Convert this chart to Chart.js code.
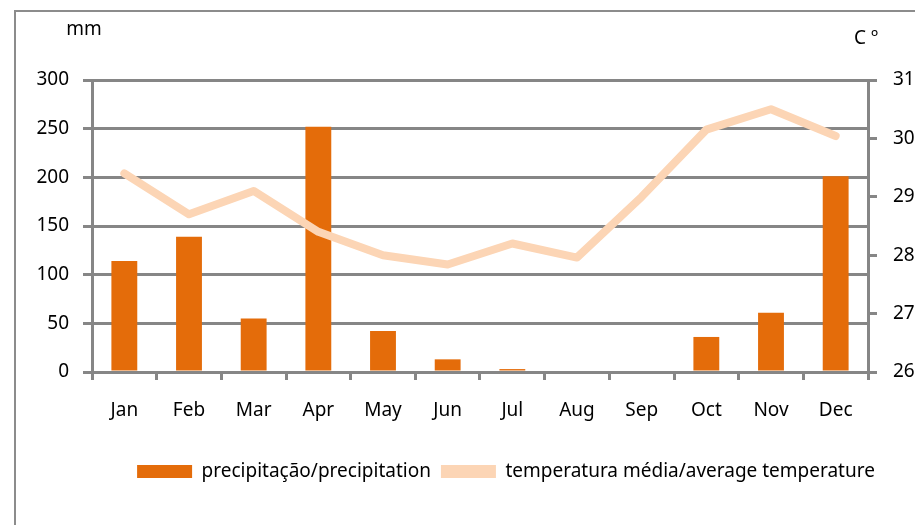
<!DOCTYPE html>
<html>
<head>
<meta charset="utf-8">
<script src="https://cdn.jsdelivr.net/npm/chart.js@4"></script>
<style>
    html, body { margin:0; padding:0; background:#fff; }
    #wrap { position:relative; width:915px; height:525px; overflow:hidden; }
    #frame {
        position:absolute; left:14px; top:10px; width:1000px; height:1000px;
        border-top:2px solid #8c8c8c; border-left:2px solid #8c8c8c;
        pointer-events:none;
    }
</style>
</head>
<body>
<div id="wrap">
    <canvas id="chart" width="915" height="525"></canvas>
    <div id="frame"></div>
</div>
<script>

// DATA

const months = ["Jan","Feb","Mar","Apr","May","Jun","Jul","Aug","Sep","Oct","Nov","Dec"];

const precipitation = [114, 139, 55, 252, 42, 13, 3, 0, 0, 36, 61, 201];

const temperature = [29.4, 28.7, 29.1, 28.4, 28.0, 27.84, 28.2, 27.96, 29.0, 30.15, 30.5, 30.04];

const mmRange = [0, 300, 50];
const tempRange = [26, 31, 1];

const seriesNames = ["precipitação/precipitation", "temperatura média/average temperature"];

// STYLE

const barColor = "#E46C0A";
const lineColor = "#FCD5B5";
const gridColor = "#868686";
const font = { family: "Noto Sans", size: 19 };

// UNIT LABELS + LEGEND SHIFT

const extras = {
    id: "extras",
    afterLayout(chart) {
        // legend of the original sat centred on a wider frame
        chart.legend.left = 97;
        chart.legend.right = 915;
    },
    afterDraw(chart) {
        let ctx = chart.ctx;
        let area = chart.chartArea;
        ctx.save();
        ctx.fillStyle = "#000";
        ctx.font = "19px 'Noto Sans'";
        ctx.textAlign = "center";
        ctx.textBaseline = "middle";
        ctx.fillText("mm", area.left - 8, 30);
        ctx.fillText("C º", area.right - 2, 39);
        ctx.restore();
    }
};

// CHART

new Chart(document.getElementById("chart"), {

    data: {
        labels: months,
        datasets: [
            {
                type: "bar",
                label: seriesNames[0],
                data: precipitation,
                backgroundColor: barColor,
                yAxisID: "y",
                barPercentage: 0.4,
                categoryPercentage: 1,
                order: 1
            },
            {
                type: "line",
                label: seriesNames[1],
                data: temperature,
                borderColor: lineColor,
                backgroundColor: lineColor,
                borderWidth: 8,
                pointRadius: 0,
                tension: 0,
                borderCapStyle: "round",
                borderJoinStyle: "round",
                yAxisID: "y1",
                order: 0
            }
        ]
    },

    options: {
        responsive: false,
        animation: false,
        layout: { padding: { left: 0, right: 0, top: 80, bottom: 34 } },
        plugins: {
            tooltip: { enabled: false },
            legend: {
                position: "bottom",
                align: "center",
                labels: {
                    color: "#000",
                    font: font,
                    boxWidth: 55,
                    boxHeight: 13,
                    padding: 10,
                    generateLabels: () => [
                        { text: seriesNames[0], fillStyle: barColor, strokeStyle: barColor, lineWidth: 0, datasetIndex: 0 },
                        { text: seriesNames[1], fillStyle: lineColor, strokeStyle: lineColor, lineWidth: 0, datasetIndex: 1 }
                    ]
                }
            }
        },
        scales: {
            x: {
                offset: true,
                grid: {
                    offset: true,
                    drawOnChartArea: false,
                    color: gridColor,
                    lineWidth: 3,
                    tickLength: 8
                },
                border: { color: gridColor, width: 3 },
                ticks: { color: "#000", font: font, padding: 19, maxRotation: 0 },
                afterFit(scale) { scale.height = 80; }
            },
            y: {
                position: "left",
                min: mmRange[0],
                max: mmRange[1],
                ticks: { stepSize: mmRange[2], color: "#000", font: font, padding: 14 },
                grid: { color: gridColor, lineWidth: 3, tickLength: 9 },
                border: { color: gridColor, width: 3 },
                afterFit(scale) { scale.width = 92; }
            },
            y1: {
                position: "right",
                min: tempRange[0],
                max: tempRange[1],
                ticks: { stepSize: tempRange[2], color: "#000", font: font, padding: 16 },
                grid: { drawOnChartArea: false, color: gridColor, lineWidth: 3, tickLength: 9 },
                border: { color: gridColor, width: 3 },
                afterFit(scale) { scale.width = 47; }
            }
        }
    },

    plugins: [extras]
});

</script>
</body>
</html>
